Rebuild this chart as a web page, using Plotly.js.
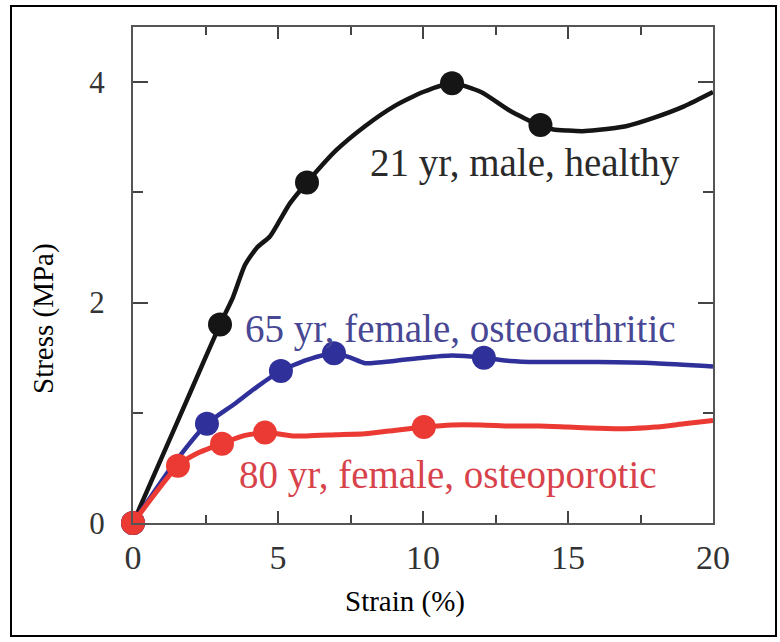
<!DOCTYPE html>
<html>
<head>
<meta charset="utf-8">
<script src="https://cdn.plot.ly/plotly-3.0.1.min.js"></script>
<style>
  html, body { margin: 0; padding: 0; background: #fff; }
  #frame { position: absolute; left: 10px; top: 5px; width: 763px; height: 628px; border: 2px solid #000; }
  #chart { position: absolute; left: 0; top: 0; width: 780px; height: 642px; }
</style>
</head>
<body>
<div id="frame"></div>
<div id="chart"></div>
<script>
// Strain (%) / Stress (MPa) curves
const healthyX = [0, 1, 2, 3, 3.45, 3.86, 4.28, 4.72, 5.07, 5.41, 6, 7, 8, 9, 10, 11, 12, 13, 14, 14.5, 15, 15.5, 16, 17, 18, 19, 20];
const healthyY = [0, 0.6, 1.2, 1.8, 2.05, 2.34, 2.5, 2.6, 2.75, 2.9, 3.09, 3.38, 3.6, 3.78, 3.91, 3.99, 3.91, 3.74, 3.61, 3.57, 3.56, 3.555, 3.565, 3.6, 3.68, 3.78, 3.91];
const healthyMarkX = [0, 3, 6, 11, 14.05];
const healthyMarkY = [0, 1.8, 3.09, 3.99, 3.61];

const arthritisX = [0, 1.5, 2.55, 3.5, 4.3, 5.1, 6, 6.93, 7.5, 8, 9, 10, 11, 12.1, 13, 14, 16, 18, 20];
const arthritisY = [0, 0.57, 0.9, 1.08, 1.24, 1.38, 1.48, 1.54, 1.5, 1.45, 1.47, 1.5, 1.52, 1.5, 1.47, 1.46, 1.46, 1.45, 1.42];
const arthritisMarkX = [0, 2.55, 5.1, 6.93, 12.1];
const arthritisMarkY = [0, 0.9, 1.38, 1.54, 1.5];

const porosisX = [0, 1.55, 2.2, 3.07, 3.8, 4.55, 5.5, 6, 7, 8, 9, 10.03, 11, 12, 13, 14, 15, 16, 17, 18, 19, 20];
const porosisY = [0, 0.52, 0.63, 0.72, 0.79, 0.82, 0.79, 0.79, 0.8, 0.81, 0.84, 0.87, 0.89, 0.89, 0.88, 0.88, 0.87, 0.86, 0.855, 0.87, 0.9, 0.93];
const porosisMarkX = [0, 1.55, 3.07, 4.55, 10.03];
const porosisMarkY = [0, 0.52, 0.72, 0.82, 0.87];

const labels = ['21 yr, male, healthy', '65 yr, female, osteoarthritic', '80 yr, female, osteoporotic'];
const xTitle = 'Strain (%)';
const yTitle = 'Stress (MPa)';

const serif = 'Liberation Serif, Times New Roman, serif';
const cBlack = '#151515', cBlue = '#30309a', cRed = '#ea3a33';

function lineTrace(x, y, color, w) {
  return { x: x, y: y, mode: 'lines', line: { color: color, width: w, shape: 'spline', smoothing: 0.6 }, cliponaxis: false, hoverinfo: 'skip', showlegend: false };
}
function markTrace(x, y, color) {
  return { x: x, y: y, mode: 'markers', marker: { color: color, size: 24 }, cliponaxis: false, showlegend: false };
}

const data = [
  lineTrace(healthyX, healthyY, cBlack, 4.5),
  markTrace(healthyMarkX, healthyMarkY, cBlack),
  lineTrace(arthritisX, arthritisY, cBlue, 4.5),
  markTrace(arthritisMarkX, arthritisMarkY, cBlue),
  lineTrace(porosisX, porosisY, cRed, 5),
  markTrace(porosisMarkX, porosisMarkY, cRed)
];

const pw = 780 - 133 - 67, ph = 642 - 27 - 119;

const layout = {
  width: 780, height: 642,
  margin: { l: 133, r: 67, t: 27, b: 119 },
  paper_bgcolor: 'rgba(0,0,0,0)',
  plot_bgcolor: 'rgba(0,0,0,0)',
  font: { family: serif, color: '#333' },
  xaxis: {
    range: [0, 20], dtick: 5, tick0: 0,
    ticks: 'inside', ticklen: 12, tickwidth: 2, tickcolor: '#444',
    minor: { dtick: 2.5, ticks: 'inside', ticklen: 8, tickwidth: 2, tickcolor: '#444' },
    showline: true, linecolor: '#555', linewidth: 2, mirror: 'ticks',
    showgrid: false, zeroline: false,
    tickfont: { family: serif, size: 34, color: '#333' },
    ticklabelstandoff: 3
  },
  yaxis: {
    range: [0, 4.5], dtick: 2, tick0: 0,
    ticks: 'inside', ticklen: 15, tickwidth: 2, tickcolor: '#444',
    minor: { dtick: 1, ticks: 'inside', ticklen: 10, tickwidth: 2, tickcolor: '#444' },
    showline: true, linecolor: '#555', linewidth: 2, mirror: 'ticks',
    showgrid: false, zeroline: false,
    tickfont: { family: serif, size: 31, color: '#333' },
    ticklabelstandoff: 20
  },
  annotations: [
    { text: labels[0], x: 8.1, y: 3.27, xref: 'x', yref: 'y', xanchor: 'left', yanchor: 'middle', showarrow: false, font: { family: serif, size: 39, color: '#2a2a2a' } },
    { text: labels[1], x: 3.79, y: 1.76, xref: 'x', yref: 'y', xanchor: 'left', yanchor: 'middle', showarrow: false, font: { family: serif, size: 39, color: '#474794' } },
    { text: labels[2], x: 3.59, y: 0.44, xref: 'x', yref: 'y', xanchor: 'left', yanchor: 'middle', showarrow: false, font: { family: serif, size: 39, color: '#d8434b' } },
    { text: xTitle, x: (405 - 133) / pw, y: (523 - 601) / ph, xref: 'paper', yref: 'paper', xanchor: 'center', yanchor: 'middle', showarrow: false, font: { family: serif, size: 29, color: '#000' } },
    { text: yTitle, textangle: -90, x: (44 - 133) / pw, y: (523 - 319) / ph, xref: 'paper', yref: 'paper', xanchor: 'center', yanchor: 'middle', showarrow: false, font: { family: serif, size: 29, color: '#000' } }
  ]
};

Plotly.newPlot('chart', data, layout, { displayModeBar: false, staticPlot: true });
</script>
</body>
</html>
